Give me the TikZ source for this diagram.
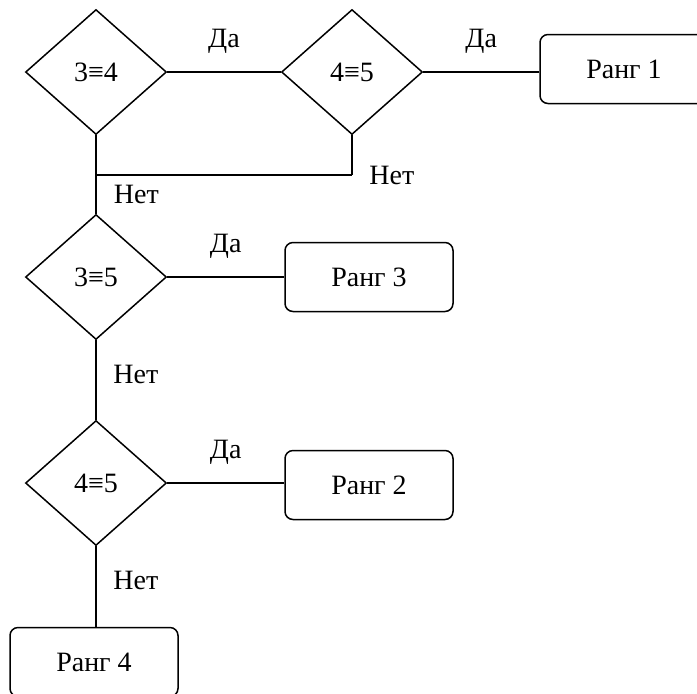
\documentclass[tikz,border=0pt]{standalone}
\usepackage{fontspec}
\setmainfont{Liberation Serif}
\usetikzlibrary{shapes.geometric}

\begin{document}
\begin{tikzpicture}[x=0.5pt, y=-0.5pt, line width=0.75pt]

\tikzset{test/.style = {shape=diamond, draw, aspect=1.128, inner sep=0pt,
  minimum width=70.5pt, minimum height=62.5pt, font=\fontsize{14}{16}\selectfont}}
\tikzset{rank/.style = {shape=rectangle, draw, rounded corners=4pt,
  minimum width=84pt, minimum height=34.5pt, font=\fontsize{14}{16}\selectfont}}
\tikzset{yes/.style = {midway, yshift=15.5pt, font=\fontsize{14}{16}\selectfont}}
\tikzset{no/.style = {right=5pt, font=\fontsize{14}{16}\selectfont}}
\useasboundingbox (0,0) rectangle (697,693);
%tests
\node[test] (d1) at (96,72) {3≡4};
\node[test] (d2) at (352,72) {4≡5};
\node[test] (d3) at (96,277) {3≡5};
\node[test] (d4) at (96,483) {4≡5};
%ranks
\node[rank] (r1) at (624,69) {Ранг 1};
\node[rank] (r3) at (369,277) {Ранг 3};
\node[rank] (r2) at (369,485) {Ранг 2};
\node[rank] (r4) at (94,662) {Ранг 4};
\coordinate (j1) at (96,175);
\coordinate (j2) at (352,175);
%edges
\draw (d1) -- (d2) node [yes] {Да};
\draw (d2.east) -- (d2.east -| r1.west) node [yes] {Да};
\draw (d1) -- (j1) -- (j2);
\draw (d2) -- (j2) node [pos=1, no] {Нет};
\draw [line width=1.2pt] (j1) -- (d3) node [midway, no] {Нет};
\draw (d3) -- (r3) node [yes] {Да};
\draw (d3) -- (d4) node [midway, yshift=3pt, no] {Нет};
\draw (d4.east) -- (d4.east -| r2.west) node [yes] {Да};
\draw (d4.south) -- (d4.south |- r4.north) node [midway, yshift=3pt, no] {Нет};

\end{tikzpicture}
\end{document}
